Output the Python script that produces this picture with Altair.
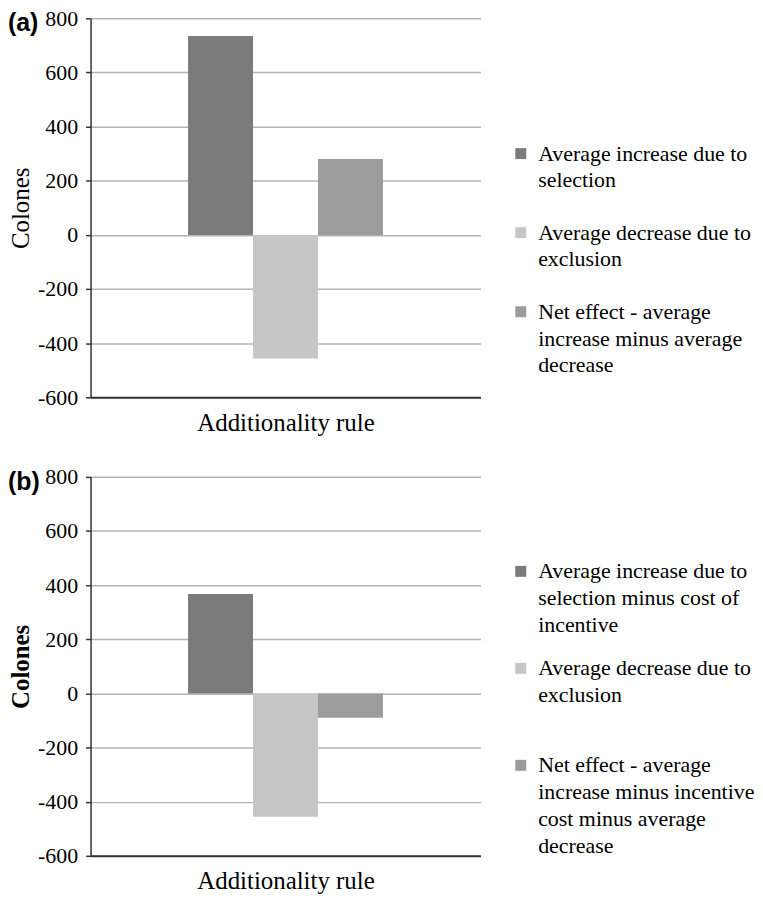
import altair as alt
import pandas as pd

colors = ["#7b7b7b", "#c5c6c5", "#9b9c9b"]

series_a = [
    "Average increase due to selection",
    "Average decrease due to exclusion",
    "Net effect - average increase minus average decrease",
]
values_a = [735, -457, 280]
lines_a = [
    ["Average increase due to", "selection"],
    ["Average decrease due to", "exclusion"],
    ["Net effect - average", "increase minus average", "decrease"],
]

series_b = [
    "Average increase due to selection minus cost of incentive",
    "Average decrease due to exclusion ",
    "Net effect - average increase minus incentive cost minus average decrease",
]
values_b = [367, -456, -90]
lines_b = [
    ["Average increase due to", "selection minus cost of", "incentive"],
    ["Average decrease due to", "exclusion"],
    ["Net effect - average", "increase minus incentive", "cost minus average", "decrease"],
]

y_ticks = [-600, -400, -200, 0, 200, 400, 600, 800]
x_title = "Additionality rule"

SERIF = "Liberation Serif"
W, H = 392, 381


def panel(tag, series, values, lines, bold_title, legend_range):
    df = pd.DataFrame({"series": series, "value": values})
    # empty slots on either side give the bar group its margin inside the plot
    x_domain = [""] + series + [" "]
    bars = alt.Chart(df).mark_bar().encode(
        x=alt.X(
            "series:N",
            scale=alt.Scale(domain=x_domain, paddingOuter=0.5, paddingInner=0),
            axis=alt.Axis(
                title=x_title, labels=False, ticks=False, titleFontSize=25,
                titleFont=SERIF, titleColor="black", titleFontWeight="normal",
                titlePadding=13, domainColor="#333333", domainWidth=2,
            ),
        ),
        y=alt.Y(
            "value:Q",
            scale=alt.Scale(domain=[-600, 800], nice=False, zero=False),
            axis=alt.Axis(
                values=y_ticks, labelExpr="datum.value", title="Colones",
                titleFont=SERIF, titleFontSize=25,
                titleFontWeight="bold" if bold_title else "normal", titleColor="black",
                titlePadding=4, labelFont=SERIF, labelFontSize=22, labelColor="black",
                labelPadding=8, tickSize=5, tickColor="#333333", tickWidth=1.5,
                domainColor="#333333", domainWidth=1.5, grid=True,
                gridColor="#b4b4b4", gridWidth=1.5,
            ),
        ),
        color=alt.Color("series:N", sort=series,
                        scale=alt.Scale(domain=series, range=colors), legend=None),
    )
    tag_layer = alt.Chart(pd.DataFrame({"tag": [tag]})).mark_text(
        font="Liberation Sans", fontWeight="bold", fontSize=25,
        align="left", baseline="middle", color="black",
    ).encode(text="tag:N", x=alt.value(-83), y=alt.value(5))
    plot = alt.layer(bars, tag_layer).properties(width=W, height=H)

    leg_df = pd.DataFrame({"series": series, "label": ["|".join(l) for l in lines]})
    yleg = alt.Y("series:N", sort=series,
                 scale=alt.Scale(type="point", domain=series, range=legend_range,
                                 padding=0),
                 axis=None)
    sq = alt.Chart(leg_df).mark_square(size=121, opacity=1).encode(
        x=alt.value(20.5), y=yleg,
        color=alt.Color("series:N", sort=series,
                        scale=alt.Scale(domain=series, range=colors), legend=None),
    )
    tx = alt.Chart(leg_df).mark_text(
        align="left", baseline="middle", lineBreak="|", lineHeight=27,
        font=SERIF, fontSize=22, color="black",
    ).encode(x=alt.value(38), y=yleg, text="label:N")
    legend = alt.layer(sq, tx).properties(width=225, height=H)
    return alt.hconcat(plot, legend, spacing=20).resolve_scale(
        x="independent", y="independent", color="independent")


pa = panel("(a)", series_a, values_a, lines_a, False, [136, 295])
pb = panel("(b)", series_b, values_b, lines_b, True, [95, 290])

chart = alt.vconcat(pa, pb, spacing=31).properties(
    padding={"top": -3, "bottom": 0, "left": 0, "right": 0}
).configure_view(stroke=None)

chart.save("out.html", embed_options={"renderer": "svg", "actions": False})
